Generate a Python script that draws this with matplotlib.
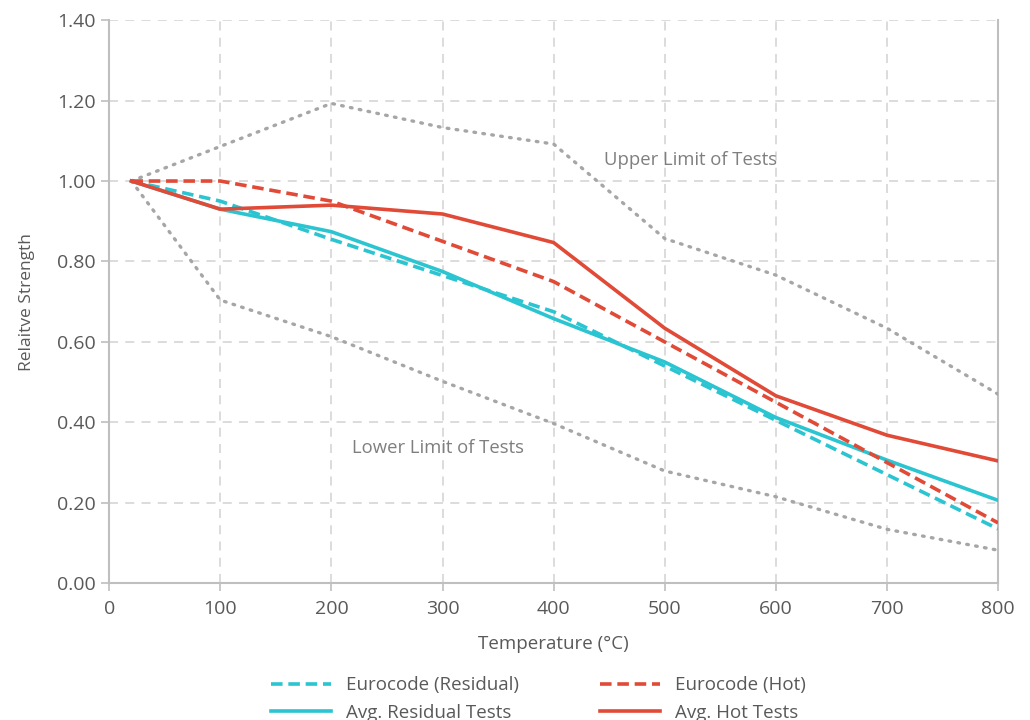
import matplotlib
matplotlib.use("Agg")
from matplotlib import pyplot as plt

# temperatures (deg C)
temps = [20, 100, 200, 300, 400, 500, 600, 700, 800]

# relative strength values
eurocode_residual = [1.00, 0.95, 0.855, 0.765, 0.675, 0.54, 0.405, 0.27, 0.135]
eurocode_hot = [1.00, 1.00, 0.95, 0.85, 0.75, 0.60, 0.45, 0.30, 0.15]
avg_residual = [1.00, 0.93, 0.874, 0.775, 0.658, 0.55, 0.412, 0.306, 0.206]
avg_hot = [1.00, 0.93, 0.94, 0.918, 0.847, 0.634, 0.466, 0.368, 0.304]
upper_limit = [1.00, 1.086, 1.193, 1.133, 1.092, 0.857, 0.766, 0.634, 0.470]
lower_limit = [1.00, 0.704, 0.613, 0.502, 0.397, 0.279, 0.215, 0.134, 0.082]

x_ticks = [0, 100, 200, 300, 400, 500, 600, 700, 800]
y_ticks = [0.0, 0.2, 0.4, 0.6, 0.8, 1.0, 1.2, 1.4]

cyan = "#2BC4D1"
red = "#E04A37"
dot_grey = "#A6A6A6"
text_grey = "#595959"

plt.rcParams['font.family'] = ['Open Sans', 'DejaVu Sans']

fig = plt.figure(figsize=(10.3, 7.2), dpi=100)
ax = fig.add_axes([0.106, 0.190, 0.863, 0.782])

# limits of tests (no legend entry)
ax.plot(temps, upper_limit, color=dot_grey, lw=2.4, linestyle=(0, (0.5, 2.2)),
        dash_capstyle='round', zorder=3)
ax.plot(temps, lower_limit, color=dot_grey, lw=2.4, linestyle=(0, (0.5, 2.2)),
        dash_capstyle='round', zorder=3)

l1, = ax.plot(temps, eurocode_residual, color=cyan, lw=2.6, linestyle=(0, (3.2, 1.6)),
              label="Eurocode (Residual)", zorder=4)
l2, = ax.plot(temps, avg_residual, color=cyan, lw=2.6, label="Avg. Residual Tests", zorder=4)
l3, = ax.plot(temps, eurocode_hot, color=red, lw=2.6, linestyle=(0, (3.2, 1.6)),
              label="Eurocode (Hot)", zorder=5)
l4, = ax.plot(temps, avg_hot, color=red, lw=2.6, label="Avg. Hot Tests", zorder=5)

ax.text(523, 1.052, "Upper Limit of Tests", color="#7F7F7F", fontsize=13.3,
        ha='center', va='center')
ax.text(296, 0.336, "Lower Limit of Tests", color="#7F7F7F", fontsize=13.3,
        ha='center', va='center')

ax.set_xlim(0, 800)
ax.set_ylim(0, 1.4)
ax.set_xticks(x_ticks)
ax.set_yticks(y_ticks)
ax.set_yticklabels(["%.2f" % v for v in y_ticks])

ax.grid(True, color="#D9D9D9", linestyle=(0, (5, 4)), lw=1.3, zorder=0)
ax.set_axisbelow(True)

for side in ['left', 'bottom', 'right']:
    ax.spines[side].set_color("#BFBFBF")
    ax.spines[side].set_linewidth(1.5)
ax.spines['top'].set_visible(False)

ax.tick_params(axis='both', colors="#BFBFBF", labelcolor=text_grey, labelsize=14,
               length=6, width=1.2)
ax.tick_params(axis='x', pad=6)

ax.set_xlabel("Temperature (°C)", color=text_grey, fontsize=13.5, labelpad=12)
ax.set_ylabel("Relaitve Strength", color=text_grey, fontsize=12.5, labelpad=16)

leg = fig.legend(handles=[l1, l2, l3, l4], loc='lower center', ncol=2,
                 bbox_to_anchor=(0.523, -0.026), frameon=False, fontsize=13.5,
                 handlelength=3.2, columnspacing=4.3, labelspacing=0.5,
                 handletextpad=0.8)
for t in leg.get_texts():
    t.set_color(text_grey)

fig.savefig("out.png", dpi=100)
